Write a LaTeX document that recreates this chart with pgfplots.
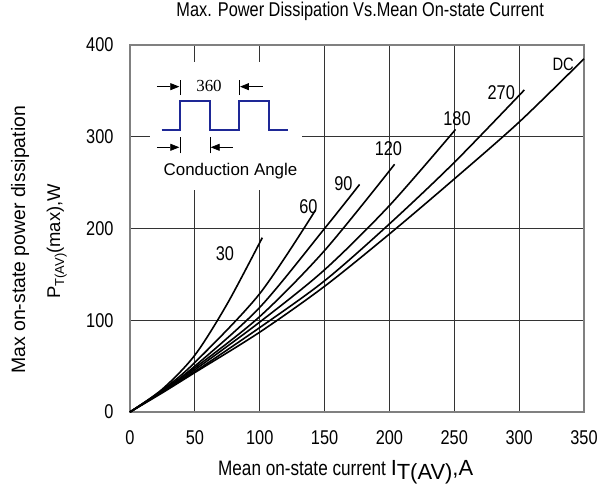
\documentclass[border=0pt]{standalone}
\usepackage{pgfplots}
\pgfplotsset{compat=1.18}
\usetikzlibrary{arrows.meta}
\usepackage{fontspec}
\setmainfont{Liberation Sans}
\newfontfamily\narrow{Liberation Sans}[FakeStretch=0.82]
\newfontfamily\serif{Liberation Serif}
\definecolor{wave}{RGB}{30,40,150}
\begin{document}
\begin{tikzpicture}
\useasboundingbox (0,0) rectangle (600bp,494bp);
\begin{axis}[
  at={(130bp,82bp)}, anchor=south west,
  scale only axis, width=454bp, height=367bp,
  xmin=0, xmax=350, ymin=0, ymax=400,
  xtick={0,50,...,350}, ytick={0,100,...,400},
  major tick length=0pt,
  grid=major,
  clip=false,
  major grid style={draw=black!80, line width=0.9bp},
  axis line style={draw=black!50, line width=1.8bp},
  /pgf/number format/assume math mode=true,
  ticklabel style={font=\narrow\fontsize{20}{24}\selectfont},
  xticklabel style={yshift=-15bp},
  yticklabel style={xshift=-13bp},
  title={\narrow\fontsize{20}{24}\selectfont Max. Power Dissipation Vs.Mean On-state Current},
  title style={at={(axis description cs:0.507,1.076)}, anchor=center},
  xlabel={{\narrow\fontsize{21}{24}\selectfont Mean on-state current }{\fontsize{22}{24}\selectfont I\raisebox{-4bp}{T(AV)},A}},
  xlabel style={at={(axis description cs:0.475,-0.163)}, anchor=center},
  ylabel={\fontsize{19.5}{22}\selectfont Max on-state power dissipation},
  ylabel style={at={(axis description cs:-0.242,0.469)}, anchor=center, rotate=0},
  curve/.style={draw=black, line width=1.6bp, smooth, tension=0.5, mark=none, solid},
]
% inset
\fill[white] (axis cs:15.4,242) rectangle (axis cs:132.6,381.5);
\draw[wave, line width=1.8bp] (axis cs:24.4,307.4) -- (axis cs:38.5,307.4) -- (axis cs:38.5,339.3) -- (axis cs:61.7,339.3) -- (axis cs:61.7,307.4) -- (axis cs:84.3,307.4) -- (axis cs:84.3,339.3) -- (axis cs:107.2,339.3) -- (axis cs:107.2,307.4) -- (axis cs:121.6,307.4);
\draw[black, line width=0.6bp] (axis cs:38.5,345.5) -- (axis cs:38.5,361.9);
\draw[black, line width=0.6bp] (axis cs:84.3,345.5) -- (axis cs:84.3,361.9);
\draw[black, line width=0.8bp, -{Triangle[length=9bp,width=7bp]}] (axis cs:20.8,354.6) -- (axis cs:38.0,354.6);
\draw[black, line width=0.8bp, -{Triangle[length=9bp,width=7bp]}] (axis cs:102.5,354.6) -- (axis cs:84.8,354.6);
\node[font=\serif\fontsize{17}{20}\selectfont] at (axis cs:60.9,355.3) {360};
\draw[black, line width=0.6bp] (axis cs:38.5,282) -- (axis cs:38.5,300);
\draw[black, line width=0.6bp] (axis cs:61.7,282) -- (axis cs:61.7,300);
\draw[black, line width=0.8bp, -{Triangle[length=9bp,width=7bp]}] (axis cs:20.8,288.5) -- (axis cs:38.0,288.5);
\draw[black, line width=0.8bp, -{Triangle[length=9bp,width=7bp]}] (axis cs:79.4,288.5) -- (axis cs:62.2,288.5);
\node[font=\fontsize{17}{20}\selectfont] at (axis cs:77.5,262) {Conduction Angle};
% curves
\addplot[curve] coordinates {(0,0) (25,25) (50,62) (75,118) (102,190)};
\addplot[curve] coordinates {(0,0) (25,24) (50,54) (100,129) (143,220)};
\addplot[curve] coordinates {(0,0) (25,23) (50,50) (100,114) (150,200) (177,248)};
\addplot[curve] coordinates {(0,0) (25,23) (50,48) (100,104) (150,176) (204,270)};
\addplot[curve] coordinates {(0,0) (25,22) (50,46) (100,98) (150,155) (200,225) (251,308)};
\addplot[curve] coordinates {(0,0) (25,22) (50,44) (100,92) (150,143) (200,205) (250,272) (304,351)};
\addplot[curve] coordinates {(0,0) (25,21) (50,43) (100,87) (150,137) (200,194) (250,254) (300,316) (350,385)};
% curve labels
\node[font=\narrow\fontsize{20}{24}\selectfont] at (axis cs:73.2,172.2) {30};
\node[font=\narrow\fontsize{20}{24}\selectfont] at (axis cs:137.5,223.8) {60};
\node[font=\narrow\fontsize{20}{24}\selectfont] at (axis cs:164.5,248.5) {90};
\node[font=\narrow\fontsize{20}{24}\selectfont] at (axis cs:199.2,286.6) {120};
\node[font=\narrow\fontsize{20}{24}\selectfont] at (axis cs:252.1,319.4) {180};
\node[font=\narrow\fontsize{20}{24}\selectfont] at (axis cs:286.2,348.4) {270};
\node[font=\narrow\fontsize{18}{20}\selectfont] at (axis cs:334,379.3) {DC};
% second ylabel line
\node[rotate=90, font=\fontsize{18.5}{22}\selectfont] at (axis description cs:-0.161,0.465) {P\raisebox{-4bp}{\fontsize{13}{14}\selectfont T(AV)}(max),W};
\end{axis}
\end{tikzpicture}
\end{document}
